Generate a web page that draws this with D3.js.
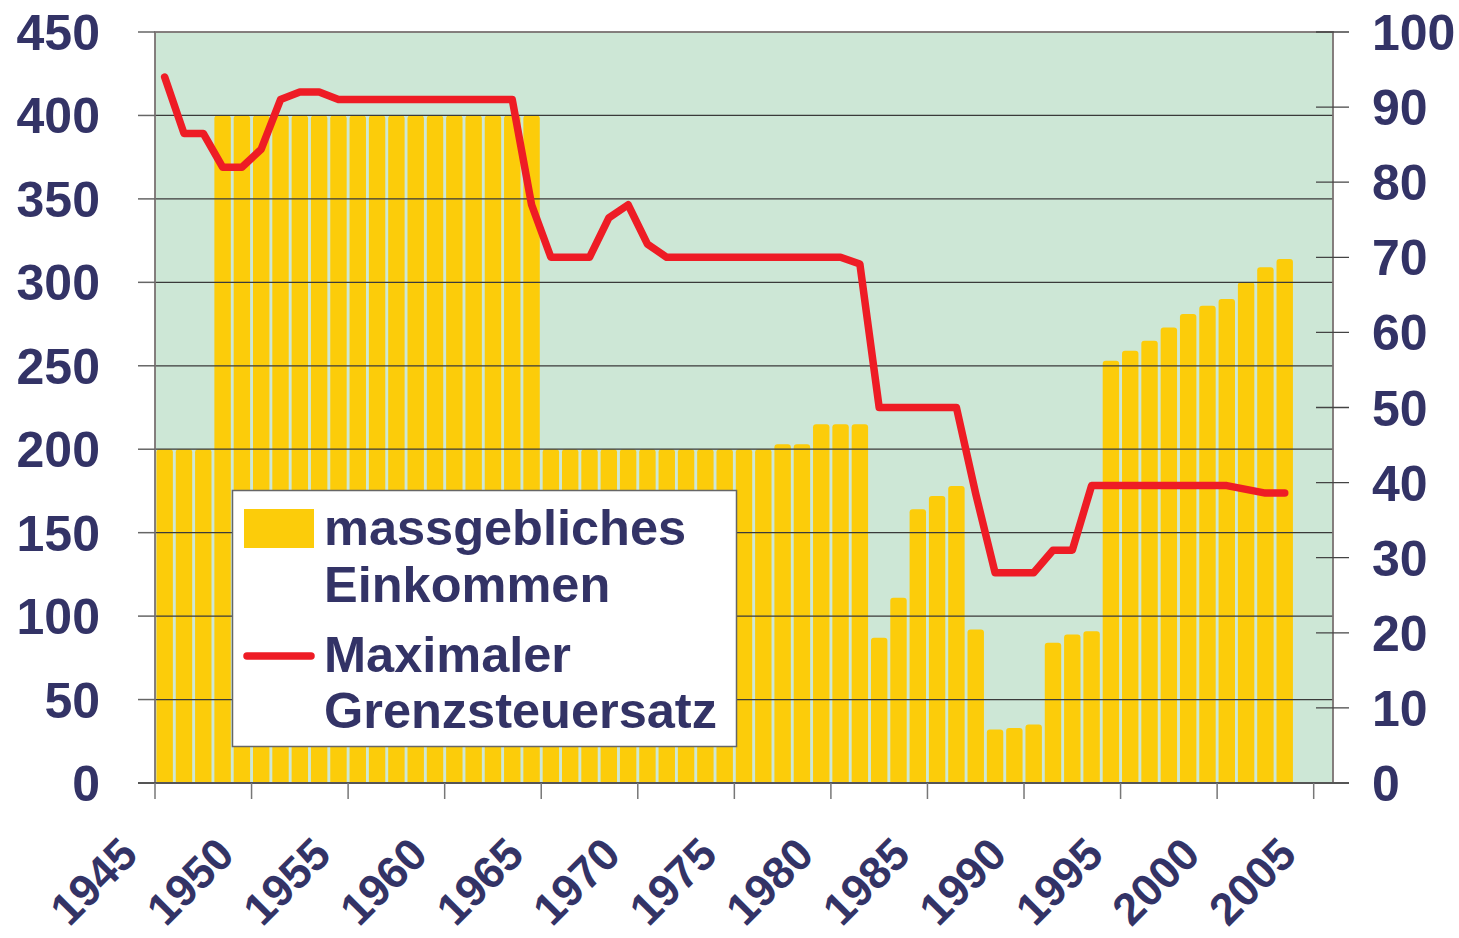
<!DOCTYPE html>
<html>
<head>
<meta charset="utf-8">
<script src="https://cdn.jsdelivr.net/npm/d3@7"></script>
<style>
	html, body { margin: 0; padding: 0; background: #fff; }
	text { font-family: "Liberation Sans", Arial, Helvetica, sans-serif; font-weight: bold; fill: #333366; }
</style>
</head>
<body>
<div id="chart"></div>
<script>
// years shown as bars / line points
const years = [
	1945, 1946, 1947, 1948, 1949, 1950, 1951, 1952, 1953, 1954,
	1955, 1956, 1957, 1958, 1959, 1960, 1961, 1962, 1963, 1964,
	1965, 1966, 1967, 1968, 1969, 1970, 1971, 1972, 1973, 1974,
	1975, 1976, 1977, 1978, 1979, 1980, 1981, 1982, 1983, 1984,
	1985, 1986, 1987, 1988, 1989, 1990, 1991, 1992, 1993, 1994,
	1995, 1996, 1997, 1998, 1999, 2000, 2001, 2002, 2003
];

// massgebliches Einkommen (left axis)
const income = [
	200, 200, 200, 400, 400, 400, 400, 400, 400, 400,
	400, 400, 400, 400, 400, 400, 400, 400, 400, 400,
	200, 200, 200, 200, 200, 200, 200, 200, 200, 200,
	200, 200, 203, 203, 215, 215, 215, 87, 111, 164,
	172, 178, 92, 32, 33, 35, 84, 89, 91, 253,
	259, 265, 273, 281, 286, 290, 300, 309, 314
];

// Maximaler Grenzsteuersatz in % (right axis)
const topRate = [
	94, 86.5, 86.5, 82, 82, 84.4, 91, 92, 92, 91,
	91, 91, 91, 91, 91, 91, 91, 91, 91, 77,
	70, 70, 70, 75.25, 77, 71.75, 70, 70, 70, 70,
	70, 70, 70, 70, 70, 70, 69.1, 50, 50, 50,
	50, 50, 38.5, 28, 28, 28, 31, 31, 39.6, 39.6,
	39.6, 39.6, 39.6, 39.6, 39.6, 39.6, 39.1, 38.6, 38.6
];

const leftTicks = [0, 50, 100, 150, 200, 250, 300, 350, 400, 450];
const rightTicks = [0, 10, 20, 30, 40, 50, 60, 70, 80, 90, 100];
const yearTicks = [1945, 1950, 1955, 1960, 1965, 1970, 1975, 1980, 1985, 1990, 1995, 2000, 2005];

const legendLabels = [
	['massgebliches', 'Einkommen'],
	['Maximaler', 'Grenzsteuersatz']
];

const width = 1459;
const height = 938;
const plot = { left: 155, right: 1333, top: 32, bottom: 783 };

const barColor = '#fccc0a';
const lineColor = '#ee1c25';
const bgColor = '#cde7d6';

const svg = d3.select('#chart')
	.append('svg')
	.attr('width', width)
	.attr('height', height);

const x = d3.scaleLinear()
	.domain([1945, 2006])
	.range([plot.left, plot.right]);

const yL = d3.scaleLinear()
	.domain([0, 450])
	.range([plot.bottom, plot.top]);

const yR = d3.scaleLinear()
	.domain([0, 100])
	.range([plot.bottom, plot.top]);

// plot background
svg.append('rect')
	.attr('x', plot.left)
	.attr('y', plot.top)
	.attr('width', plot.right - plot.left)
	.attr('height', plot.bottom - plot.top)
	.attr('fill', bgColor);

// bars with slightly rounded tops
const barW = (x(1946) - x(1945)) * 0.85;
const r = 3;

function barPath (year, value) {
	const cx = x(year + 0.5);
	const x0 = cx - barW / 2;
	const x1 = cx + barW / 2;
	const y0 = yL(value);
	const yb = yL(0);
	return `M${x0},${yb}V${y0 + r}Q${x0},${y0} ${x0 + r},${y0}H${x1 - r}Q${x1},${y0} ${x1},${y0 + r}V${yb}Z`;
}

svg.append('g')
	.selectAll('path')
	.data(years)
	.join('path')
	.attr('d', (d, i) => barPath(d, income[i]))
	.attr('fill', barColor);

// gridlines, on top of the bars
svg.append('g')
	.selectAll('line')
	.data(leftTicks.filter((t) => t > 0 && t < 450))
	.join('line')
	.attr('x1', plot.left)
	.attr('x2', plot.right)
	.attr('y1', (d) => yL(d))
	.attr('y2', (d) => yL(d))
	.attr('stroke', '#3a3a3a')
	.attr('stroke-width', 1.3);

// plot frame
svg.append('rect')
	.attr('x', plot.left)
	.attr('y', plot.top)
	.attr('width', plot.right - plot.left)
	.attr('height', plot.bottom - plot.top)
	.attr('fill', 'none')
	.attr('stroke', '#7a7272')
	.attr('stroke-width', 1.8);

// left axis
const leftAxis = svg.append('g');
leftAxis.selectAll('line')
	.data(leftTicks)
	.join('line')
	.attr('x1', 138)
	.attr('x2', plot.left)
	.attr('y1', (d) => yL(d))
	.attr('y2', (d) => yL(d))
	.attr('stroke', '#666')
	.attr('stroke-width', 1.5);
leftAxis.selectAll('text')
	.data(leftTicks)
	.join('text')
	.attr('x', 100)
	.attr('y', (d) => yL(d))
	.attr('dy', '0.36em')
	.attr('text-anchor', 'end')
	.attr('font-size', 50)
	.text((d) => d);

// right axis
const rightAxis = svg.append('g');
rightAxis.selectAll('line')
	.data(rightTicks)
	.join('line')
	.attr('x1', 1316)
	.attr('x2', 1349)
	.attr('y1', (d) => yR(d))
	.attr('y2', (d) => yR(d))
	.attr('stroke', '#444')
	.attr('stroke-width', 1.3);
rightAxis.selectAll('text')
	.data(rightTicks)
	.join('text')
	.attr('x', 1372)
	.attr('y', (d) => yR(d))
	.attr('dy', '0.36em')
	.attr('text-anchor', 'start')
	.attr('font-size', 50)
	.text((d) => d);

// bottom axis
svg.append('line')
	.attr('x1', 138)
	.attr('x2', 1349)
	.attr('y1', plot.bottom)
	.attr('y2', plot.bottom)
	.attr('stroke', '#555')
	.attr('stroke-width', 1.8);

const bottomAxis = svg.append('g');
bottomAxis.selectAll('line')
	.data(yearTicks)
	.join('line')
	.attr('x1', (d) => x(d))
	.attr('x2', (d) => x(d))
	.attr('y1', plot.bottom)
	.attr('y2', plot.bottom + 16)
	.attr('stroke', '#777')
	.attr('stroke-width', 1.5);
bottomAxis.selectAll('text')
	.data(yearTicks)
	.join('text')
	.attr('text-anchor', 'end')
	.attr('font-size', 45)
	.attr('transform', (d) => `translate(${x(d) - 15},${plot.bottom + 74}) rotate(-45)`)
	.text((d) => d);

// red line
const line = d3.line()
	.x((d, i) => x(years[i] + 0.5))
	.y((d) => yR(d));

svg.append('path')
	.datum(topRate)
	.attr('d', line)
	.attr('fill', 'none')
	.attr('stroke', lineColor)
	.attr('stroke-width', 7.5)
	.attr('stroke-linejoin', 'round')
	.attr('stroke-linecap', 'round');

// legend
const legend = svg.append('g');
legend.append('rect')
	.attr('x', 232.5)
	.attr('y', 490.5)
	.attr('width', 504)
	.attr('height', 256)
	.attr('fill', '#fff')
	.attr('stroke', '#666')
	.attr('stroke-width', 1.5);

legend.append('rect')
	.attr('x', 244)
	.attr('y', 509)
	.attr('width', 70)
	.attr('height', 39)
	.attr('fill', barColor);

legend.append('line')
	.attr('x1', 247)
	.attr('x2', 311)
	.attr('y1', 656)
	.attr('y2', 656)
	.attr('stroke', lineColor)
	.attr('stroke-width', 7.5)
	.attr('stroke-linecap', 'round');

const baselines = [[545, 602], [672, 728]];
legendLabels.forEach((lines, i) => {
	lines.forEach((txt, j) => {
		legend.append('text')
			.attr('x', 324)
			.attr('y', baselines[i][j])
			.attr('font-size', 50.5)
			.text(txt);
	});
});
</script>
</body>
</html>
